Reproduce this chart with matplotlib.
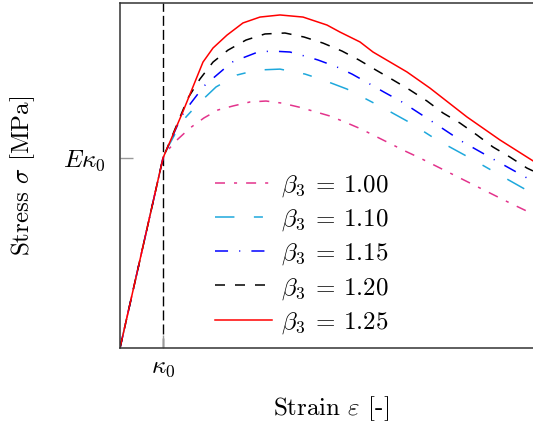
import matplotlib.pyplot as plt

plt.rcParams['mathtext.fontset'] = 'cm'
plt.rcParams['font.family'] = 'DejaVu Serif'
plt.rcParams['lines.scale_dashes'] = False

# strain in units of kappa0, stress in units of E*kappa0
kappa0 = 1.0
E_kappa0 = 1.0
beta3 = ['1.00', '1.10', '1.15', '1.20', '1.25']

strain_100 = [0, 1.0, 1.093, 1.349, 1.628, 1.953, 2.279, 2.628, 3.023, 3.395,
              3.767, 4.163, 4.488, 4.884, 5.233, 5.605, 5.930, 6.302, 6.628,
              6.977, 7.674, 8.372, 9.070, 9.605]
stress_100 = [0, 1.0, 1.037, 1.100, 1.158, 1.211, 1.253, 1.274, 1.295, 1.300,
              1.289, 1.268, 1.247, 1.221, 1.189, 1.153, 1.116, 1.074, 1.037,
              1.000, 0.921, 0.842, 0.763, 0.705]

strain_110 = [0, 1.0, 1.116, 1.279, 1.535, 1.791, 2.233, 2.721, 3.186, 3.721,
              4.302, 4.721, 5.279, 5.814, 6.209, 6.721, 7.372, 8.140, 8.791,
              9.535, 9.605]
stress_110 = [0, 1.0, 1.058, 1.126, 1.216, 1.279, 1.374, 1.437, 1.463, 1.468,
              1.442, 1.411, 1.363, 1.300, 1.253, 1.189, 1.095, 1.000, 0.916,
              0.821, 0.816]

strain_115 = [0, 1.0, 1.349, 1.488, 1.953, 2.605, 3.209, 3.535, 3.953, 4.372,
              4.605, 5.047, 5.395, 5.814, 6.140, 6.558, 6.884, 7.279, 7.977,
              8.721, 9.465, 9.605]
stress_115 = [0, 1.0, 1.179, 1.242, 1.379, 1.505, 1.558, 1.563, 1.558, 1.532,
              1.516, 1.479, 1.442, 1.389, 1.347, 1.295, 1.247, 1.189, 1.084,
              0.989, 0.895, 0.879]

strain_120 = [0, 1.0, 1.581, 1.860, 2.163, 2.512, 2.930, 3.372, 3.837, 4.279,
              4.721, 5.163, 5.558, 5.953, 6.349, 6.744, 7.140, 7.512, 7.907,
              8.302, 8.674, 9.070, 9.465, 9.605]
stress_120 = [0, 1.0, 1.316, 1.416, 1.505, 1.568, 1.621, 1.653, 1.658, 1.637,
              1.605, 1.563, 1.516, 1.463, 1.411, 1.358, 1.300, 1.237, 1.184,
              1.121, 1.058, 1.005, 0.947, 0.932]

strain_125 = [0, 1.0, 1.465, 1.930, 2.163, 2.488, 2.860, 3.256, 3.721, 4.256,
              4.814, 5.116, 5.581, 5.884, 6.674, 7.209, 8.070, 8.837, 9.605]
stress_125 = [0, 1.0, 1.245, 1.505, 1.579, 1.647, 1.711, 1.742, 1.753, 1.742,
              1.700, 1.663, 1.611, 1.558, 1.453, 1.368, 1.216, 1.095, 0.985]

curves = [(strain_100, stress_100), (strain_110, stress_110),
          (strain_115, stress_115), (strain_120, stress_120),
          (strain_125, stress_125)]
colors = ['#e3338c', '#1ea8dc', '#0000ff', 'black', '#ff0000']
dashes = [(0, (7.2, 6.5, 2.2, 6.5)),
          (0, (14, 14, 6.5, 14)),
          (0, (9.4, 8, 0.8, 8)),
          (0, (7.2, 7.2)),
          '-']

fig = plt.figure(figsize=(5.33, 4.24), dpi=100)
ax = fig.add_axes([120 / 533, 76 / 424, 413 / 533, 345 / 424])

ax.axvline(kappa0, color='black', lw=1.0, ls=(0, (7.2, 2.9)), zorder=1)

for (x, y), c, ls, b in zip(curves, colors, dashes, beta3):
    ax.plot(x, y, color=c, ls=ls, lw=1.1, label=r'$\beta_3\;=\,%s$' % b)

ax.set_xlim(0, 9.605)
ax.set_ylim(0, 1.816)

ax.set_xticks([kappa0])
ax.set_xticklabels([r'$\kappa_0$'])
ax.set_yticks([E_kappa0])
ax.set_yticklabels([r'$E\kappa_0$'])
ax.tick_params(direction='in', length=9.4, width=1, color='#999999',
               labelsize=18)
ax.tick_params(axis='y', pad=10)
ax.tick_params(axis='x', pad=6)

for s in ['left', 'bottom', 'top']:
    ax.spines[s].set_color('#333333')
    ax.spines[s].set_linewidth(1.1)
ax.spines['right'].set_visible(False)

ax.set_xlabel(r'$\text{Strain }\varepsilon\text{ [-]}$', fontsize=18)
ax.set_ylabel(r'$\text{Stress }\sigma\text{ [MPa]}$', fontsize=18)
ax.xaxis.set_label_coords(0.51, -0.135)
ax.yaxis.set_label_coords(-0.2, 0.5)

ax.legend(loc='upper left', bbox_to_anchor=(0.23, 0.507), frameon=False,
          fontsize=18, handlelength=2.3, handletextpad=0.35,
          labelspacing=0.34, borderpad=0, borderaxespad=0)

fig.savefig('out.png', dpi=100)
